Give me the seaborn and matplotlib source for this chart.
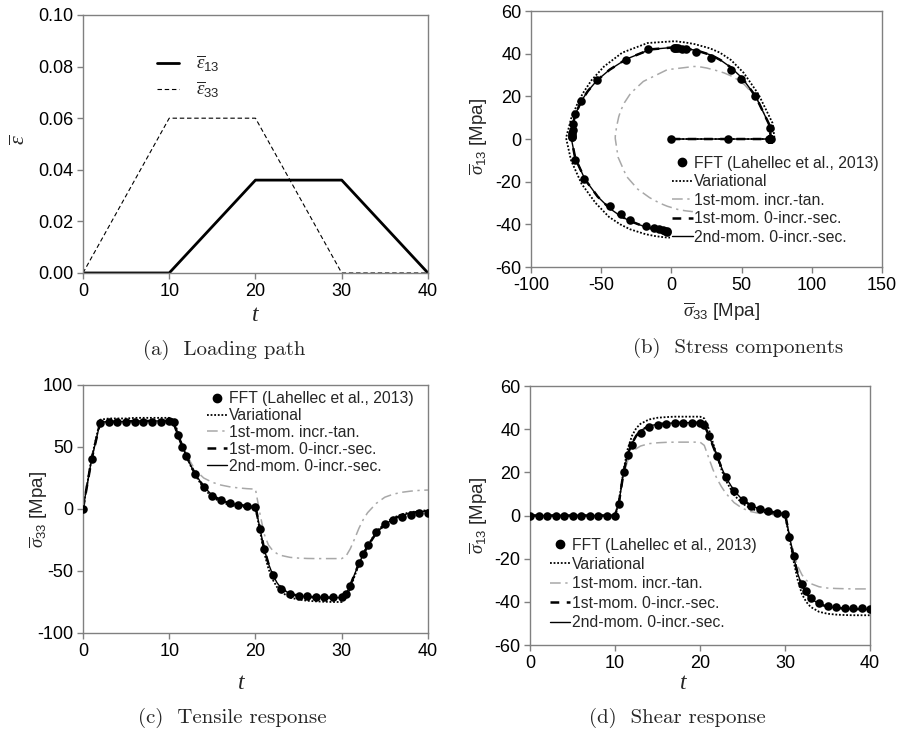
import numpy as np
import pandas as pd
import matplotlib
matplotlib.use("Agg")
import matplotlib.pyplot as plt
import seaborn as sns
from matplotlib.lines import Line2D

# ============================
# DADOS
# ============================
# (a) trajetória de carregamento
t_carga = [0, 10, 20, 30, 40]
eps13 = [0.0, 0.0, 0.036, 0.036, 0.0]
eps33 = [0.0, 0.06, 0.06, 0.0, 0.0]

# FFT (Lahellec et al., 2013)
t_fft = [0, 1, 2, 3, 4, 5, 6, 7, 8, 9, 10, 10.5, 11, 11.5, 12, 13, 14, 15, 16, 17, 18, 19, 20,
         20.5, 21, 22, 23, 24, 25, 26, 27, 28, 29, 30, 30.5, 31, 32, 32.5, 33, 34, 35, 36, 37, 38, 39, 40]
fft_s33 = [0, 40, 69.5, 70, 70, 70, 70.5, 70.5, 70.5, 70.5, 70.8, 70, 59.3, 49.7, 42.4, 28, 17.4, 10.7,
           7.2, 4.6, 3.5, 2.7, 1.9, -16.4, -32.2, -52.9, -64.4, -68.5, -69.8, -70, -70.6, -70.9, -70.9,
           -70.9, -68.5, -62, -43.8, -36.2, -29.3, -18.3, -12.3, -8.9, -6.2, -4.8, -3.5, -3.5]
fft_s13 = [0, 0, 0, 0, 0, 0, 0, 0, 0, 0, 0, 5.2, 20, 28, 32.5, 38.2, 40.8, 42, 42.2, 42.7, 42.7, 42.7,
           42.7, 42, 37, 27.6, 18, 11.5, 7.2, 4.2, 3, 2, 1, 0.8, -9.8, -18.8, -31.5, -35, -38, -40.7,
           -41.8, -42.3, -42.8, -42.9, -43, -43.5]

# modelos
t_mod = [0, 1, 2, 3, 4, 5, 6, 7, 8, 9, 10, 10.5, 11, 11.5, 12, 12.5, 13, 14, 15, 16, 17, 18, 19, 20,
         20.5, 21, 21.5, 22, 22.5, 23, 24, 25, 26, 27, 28, 29, 30,
         30.5, 31, 31.5, 32, 32.5, 33, 34, 35, 36, 37, 38, 39, 40]

var_s33 = [0, 41, 72, 73, 73, 73, 73.5, 73.5, 73.5, 73.5, 73.5, 72, 62, 51.5, 42.5, 34.5, 27.5,
           16.5, 9.5, 5.5, 3.3, 2, 1.3, 1,
           -17, -35, -48, -57, -63, -67, -71.5, -73, -74, -74.5, -74.8, -75, -75,
           -71.5, -64, -54, -44.5, -36.5, -29.5, -18.5, -11.5, -7, -4.2, -2.6, -1.6, -1]
tan_s33 = [0, 40, 70, 70.5, 70.5, 70.5, 71, 71, 71, 71, 71, 69.5, 61, 52, 44.5, 37.5, 31.5,
           25, 21.5, 19.3, 17.9, 17, 16.4, 16,
           -3, -20, -29, -33.5, -36, -37.5, -39, -39.6, -39.9, -40, -40, -40, -40,
           -38, -32, -24, -15.5, -8.5, -3, 4.5, 9.5, 12, 13.5, 14.4, 15, 15.3]
sec1_s33 = [0, 40, 70, 70.5, 70.5, 70.5, 71, 71, 71, 71, 71, 69.5, 60, 50.5, 42.5, 35, 28.5,
            18, 11, 7, 4.6, 3.3, 2.5, 2,
            -15, -32, -44, -53, -59.5, -64, -68.5, -70, -70.8, -71.2, -71.4, -71.5, -71.5,
            -68.5, -61.5, -52.5, -44, -36.5, -30, -19.5, -12.5, -8, -5, -3.2, -2.2, -1.6]
sec2_s33 = [0, 40, 70, 70.5, 70.5, 70.5, 71, 71, 71, 71, 71, 69.5, 60, 50.5, 42.5, 35, 28.5,
            18, 11, 7, 4.6, 3.3, 2.5, 2,
            -15, -32, -44, -53, -59.5, -64, -68.5, -70, -70.8, -71.2, -71.4, -71.5, -71.5,
            -68.5, -61.5, -52.5, -44, -36.5, -30, -19.5, -12.5, -8, -5, -3.2, -2.2, -1.6]

var_s13 = [0, 0, 0, 0, 0, 0, 0, 0, 0, 0, 0, 7.5, 21, 31, 37, 40.5, 42.5,
           44.5, 45.3, 45.6, 45.8, 45.8, 45.8, 45.8,
           45, 40.5, 34, 27.5, 21.5, 16.5, 9.5, 5.5, 3.2, 1.9, 1.1, 0.7, 0.4,
           -10, -21, -30, -36.5, -40, -42.3, -44.6, -45.5, -45.9, -46.1, -46.2, -46.2, -46.2]
tan_s13 = [0, 0, 0, 0, 0, 0, 0, 0, 0, 0, 0, 7, 19, 25.5, 29, 31, 32.2,
           33.3, 33.7, 33.9, 34, 34, 34, 34,
           32.5, 27, 21.5, 17, 13.5, 10.5, 6, 3.3, 1.8, 1, 0.6, 0.3, 0.2,
           -8.5, -17.5, -23.5, -27.5, -30, -31.5, -33, -33.6, -33.8, -33.9, -34, -34, -34]
sec1_s13 = [0, 0, 0, 0, 0, 0, 0, 0, 0, 0, 0, 7, 20, 28.5, 33.5, 37, 39.3,
            41.5, 42.3, 42.7, 42.9, 43, 43, 43,
            42, 37.5, 32.5, 27.5, 22.5, 18, 11.5, 7.3, 4.6, 3, 2, 1.3, 0.9,
            -9, -19, -27, -32.5, -36, -38.3, -41, -42.2, -42.8, -43.1, -43.3, -43.4, -43.5]
sec2_s13 = [0, 0, 0, 0, 0, 0, 0, 0, 0, 0, 0, 7, 20, 28.5, 33.5, 37, 39.3,
            41.5, 42.3, 42.7, 42.9, 43, 43, 43,
            42, 37.5, 32.5, 27.5, 22.5, 18, 11.5, 7.3, 4.6, 3, 2, 1.3, 0.9,
            -9, -19, -27, -32.5, -36, -38.3, -41, -42.2, -42.8, -43.1, -43.3, -43.4, -43.5]

modelos = ['1st-mom. incr.-tan.', 'Variational', '1st-mom. 0-incr.-sec.', '2nd-mom. 0-incr.-sec.']
s33_mod = {'Variational': var_s33, '1st-mom. incr.-tan.': tan_s33,
           '1st-mom. 0-incr.-sec.': sec1_s33, '2nd-mom. 0-incr.-sec.': sec2_s33}
s13_mod = {'Variational': var_s13, '1st-mom. incr.-tan.': tan_s13,
           '1st-mom. 0-incr.-sec.': sec1_s13, '2nd-mom. 0-incr.-sec.': sec2_s13}

estilos = {
    'Variational': dict(color='black', lw=1.3, dashes=(1.0, 1.0)),
    '1st-mom. incr.-tan.': dict(color='#a8a8a8', lw=1.1, dashes=(7, 3, 1.5, 3)),
    '1st-mom. 0-incr.-sec.': dict(color='black', lw=1.8, dashes=(3.5, 3)),
    '2nd-mom. 0-incr.-sec.': dict(color='black', lw=1.0, dashes=None),
}
ordem_legenda = ['Variational', '1st-mom. incr.-tan.', '1st-mom. 0-incr.-sec.', '2nd-mom. 0-incr.-sec.']

# ============================
# ESTILO
# ============================
sns.set_style("ticks")
plt.rcParams['font.family'] = ['Liberation Sans', 'DejaVu Sans']
plt.rcParams['axes.unicode_minus'] = False
plt.rcParams['mathtext.fontset'] = 'custom'
plt.rcParams['mathtext.rm'] = 'Liberation Sans'
plt.rcParams['mathtext.it'] = 'Liberation Serif:italic'
plt.rcParams['mathtext.bf'] = 'Liberation Sans:bold'

CINZA = '#808080'
TAM_TICK = 13
TAM_LEG = 11.3
TAM_SIG = 13.5


def caixa(ax):
    for s in ax.spines.values():
        s.set_visible(True)
        s.set_color(CINZA)
        s.set_linewidth(1.0)
    ax.tick_params(direction='out', length=4, width=1, color=CINZA, labelsize=TAM_TICK,
                   labelcolor='black', pad=3)


def linha(ax, x, y, nome):
    e = estilos[nome]
    sns.lineplot(x=x, y=y, ax=ax, sort=False, estimator=None, color=e['color'],
                 linewidth=e['lw'], label=nome, legend=False)
    ln = ax.lines[-1]
    if e['dashes'] is not None:
        ln.set_dashes(e['dashes'])
    return ln


def legenda(ax, handles, loc, anchor, spacing):
    h = [Line2D([], [], marker='o', ls='none', color='black', ms=6)] + handles
    labels = ['FFT (Lahellec et al., 2013)'] + ordem_legenda
    ax.legend(h, labels, loc=loc, bbox_to_anchor=anchor, frameon=False, fontsize=TAM_LEG,
              handlelength=1.3, handletextpad=0.1, labelspacing=spacing, borderpad=0,
              borderaxespad=0)


fig = plt.figure(figsize=(8.97, 7.35), dpi=100)

# ============================
# (a) Loading path
# ============================
ax = fig.add_axes([0.0925, 0.6286, 0.3846, 0.351])
sns.lineplot(x=t_carga, y=eps13, ax=ax, color='black', linewidth=2.0, legend=False)
l13 = ax.lines[-1]
sns.lineplot(x=t_carga, y=eps33, ax=ax, color='black', linewidth=0.8, legend=False)
l33 = ax.lines[-1]
l33.set_dashes((4, 2.5))
ax.set_xlim(0, 40)
ax.set_ylim(0, 0.10)
ax.set_xticks([0, 10, 20, 30, 40])
ax.set_yticks(np.arange(0, 0.101, 0.02))
ax.yaxis.set_major_formatter(matplotlib.ticker.FormatStrFormatter('%.2f'))
caixa(ax)
ax.set_xlabel(r'$t$', fontsize=17, va='center')
ax.xaxis.set_label_coords(0.5, -0.163)
ax.set_ylabel(r'$\overline{\varepsilon}$', fontsize=16, va='center')
ax.yaxis.set_label_coords(-0.183, 0.516)
ax.legend([l13, l33], [r'$\overline{\varepsilon}_{13}$', r'$\overline{\varepsilon}_{33}$'],
          loc='upper left', bbox_to_anchor=(0.2145, 0.85), frameon=False, fontsize=13.5,
          handlelength=1.2, handletextpad=0.9, labelspacing=0.3, borderpad=0, borderaxespad=0)

# ============================
# (b) Stress components
# ============================
ax = fig.add_axes([0.592, 0.6367, 0.3913, 0.3483])
hs = {}
for m in modelos:
    hs[m] = linha(ax, s33_mod[m], s13_mod[m], m)
sns.scatterplot(x=fft_s33, y=fft_s13, ax=ax, color='black', s=38, linewidth=0, zorder=5, legend=False)
ax.set_xlim(-100, 150)
ax.set_ylim(-60, 60)
ax.set_xticks(np.arange(-100, 151, 50))
ax.set_yticks(np.arange(-60, 61, 20))
caixa(ax)
ax.set_xlabel(r'$\overline{\sigma}_{33}$ [Mpa]', fontsize=TAM_SIG, va='center')
ax.xaxis.set_label_coords(0.543, -0.1746)
ax.set_ylabel(r'$\overline{\sigma}_{13}$ [Mpa]', fontsize=TAM_SIG, va='center')
ax.yaxis.set_label_coords(-0.150, 0.509)
legenda(ax, [hs[m] for m in ordem_legenda], 'upper left', (0.402, 0.434), 0.22)

# ============================
# (c) Tensile response
# ============================
ax = fig.add_axes([0.0925, 0.1388, 0.3846, 0.3374])
hs = {}
for m in modelos:
    hs[m] = linha(ax, t_mod, s33_mod[m], m)
sns.scatterplot(x=t_fft, y=fft_s33, ax=ax, color='black', s=38, linewidth=0, zorder=5, legend=False)
ax.set_xlim(0, 40)
ax.set_ylim(-100, 100)
ax.set_xticks([0, 10, 20, 30, 40])
ax.set_yticks(np.arange(-100, 101, 50))
caixa(ax)
ax.set_xlabel(r'$t$', fontsize=17, va='center')
ax.xaxis.set_label_coords(0.46, -0.201)
ax.set_ylabel(r'$\overline{\sigma}_{33}$ [Mpa]', fontsize=TAM_SIG, va='center')
ax.yaxis.set_label_coords(-0.1296, 0.497)
legenda(ax, [hs[m] for m in ordem_legenda], 'upper left', (0.3585, 0.975), 0.12)

# ============================
# (d) Shear response
# ============================
ax = fig.add_axes([0.5909, 0.1224, 0.379, 0.3524])
hs = {}
for m in modelos:
    hs[m] = linha(ax, t_mod, s13_mod[m], m)
sns.scatterplot(x=t_fft, y=fft_s13, ax=ax, color='black', s=38, linewidth=0, zorder=5, legend=False)
ax.set_xlim(0, 40)
ax.set_ylim(-60, 60)
ax.set_xticks([0, 10, 20, 30, 40])
ax.set_yticks(np.arange(-60, 61, 20))
caixa(ax)
ax.set_xlabel(r'$t$', fontsize=17, va='center')
ax.xaxis.set_label_coords(0.451, -0.148)
ax.set_ylabel(r'$\overline{\sigma}_{13}$ [Mpa]', fontsize=TAM_SIG, va='center')
ax.yaxis.set_label_coords(-0.152, 0.502)
legenda(ax, [hs[m] for m in ordem_legenda], 'upper left', (0.059, 0.415), 0.28)

# ============================
# LEGENDAS DAS FIGURAS
# ============================
legendas_fig = [(0.2497, 0.5238, '(a)  Loading path'), (0.8227, 0.5265, '(b)  Stress components'),
                (0.2586, 0.0231, '(c)  Tensile response'), (0.7547, 0.0231, '(d)  Shear response')]
for x, y, txt in legendas_fig:
    fig.text(x, y, txt, ha='center', va='center', fontfamily='cmr10', fontsize=15)

fig.savefig('out.png', dpi=100)
